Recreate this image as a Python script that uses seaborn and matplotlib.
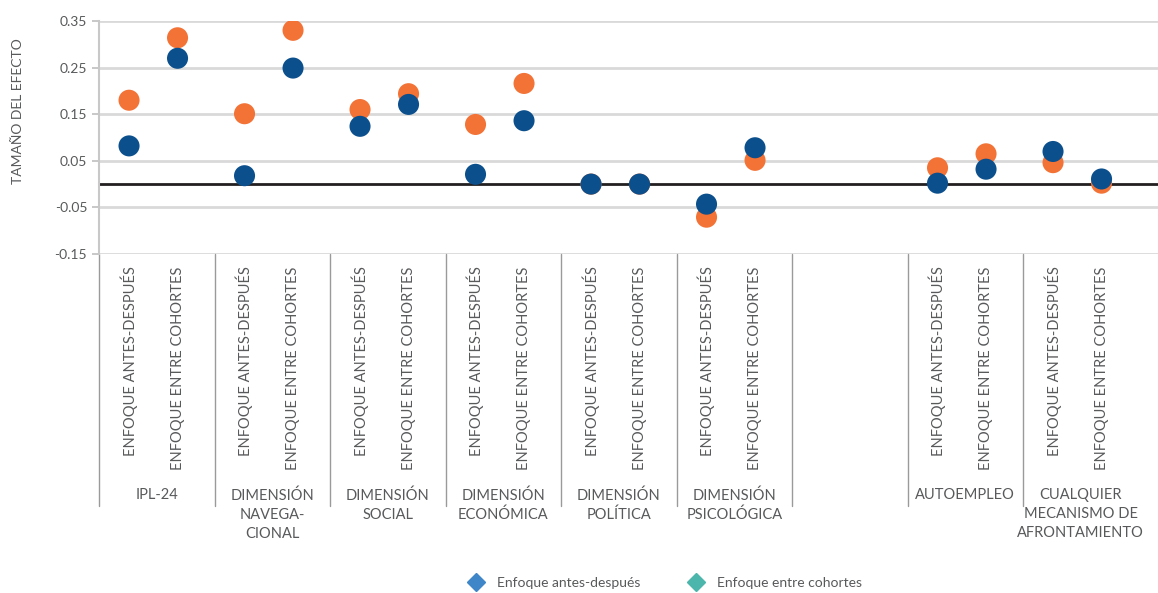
import pandas as pd
import matplotlib.pyplot as plt
from matplotlib.lines import Line2D
import seaborn as sns

# Data
groups = ['IPL-24', 'DIMENSIÓN\nNAVEGA-\nCIONAL', 'DIMENSIÓN\nSOCIAL', 'DIMENSIÓN\nECONÓMICA',
          'DIMENSIÓN\nPOLÍTICA', 'DIMENSIÓN\nPSICOLÓGICA', '', 'AUTOEMPLEO',
          'CUALQUIER\nMECANISMO DE\nAFRONTAMIENTO']
approaches = ['ENFOQUE ANTES-DESPUÉS', 'ENFOQUE ENTRE COHORTES']

# one value per (group, approach); None where the group is empty
orange_antes = [0.180, 0.151, 0.160, 0.128, 0.000, -0.071, None, 0.035, 0.046]
orange_cohortes = [0.314, 0.330, 0.194, 0.216, 0.000, 0.051, None, 0.065, 0.002]
blue_antes = [0.082, 0.018, 0.124, 0.021, 0.000, -0.043, None, 0.002, 0.070]
blue_cohortes = [0.270, 0.249, 0.171, 0.136, 0.000, 0.078, None, 0.032, 0.011]

yticks = [-0.15, -0.05, 0.05, 0.15, 0.25, 0.35]
legend_labels = ['Enfoque antes-después', 'Enfoque entre cohortes']

ORANGE = '#F37236'
BLUE = '#0B4F8C'
TEXT = '#58595B'
offsets = [0.26, 0.68]

sns.set_theme(style='white')
plt.rcParams['font.family'] = ['Lato', 'DejaVu Sans']

rows = []
for series, vals_a, vals_c in [('naranja', orange_antes, orange_cohortes),
                               ('azul', blue_antes, blue_cohortes)]:
    for g, (va, vc) in enumerate(zip(vals_a, vals_c)):
        for k, v in enumerate([va, vc]):
            if v is not None:
                rows.append({'serie': series, 'pos': g + offsets[k], 'efecto': v})
df = pd.DataFrame(rows)

fig = plt.figure(figsize=(11.58, 5.93), dpi=100)
ax = fig.add_axes([99 / 1158, 1 - 254 / 593, (1158 - 99) / 1158, 233 / 593])

sns.scatterplot(data=df, x='pos', y='efecto', hue='serie', hue_order=['naranja', 'azul'],
                palette={'naranja': ORANGE, 'azul': BLUE}, s=230, linewidth=0,
                legend=False, ax=ax, zorder=4)

ax.set_xlim(0, (1158 - 99) / 115.5)
ax.set_ylim(-0.15, 0.35)
ax.set_yticks(yticks)
ax.set_yticklabels([f'{t:.2f}' for t in yticks])
ax.yaxis.grid(True, color='#D9D9D9', lw=2, zorder=0)
ax.axhline(0, color='#231F20', lw=2, zorder=2)

tick_pos, tick_lab = [], []
for g, name in enumerate(groups):
    if name:
        for k, lab in enumerate(approaches):
            tick_pos.append(g + offsets[k])
            tick_lab.append(lab)
ax.set_xticks(tick_pos)
ax.set_xticklabels(tick_lab, rotation=90, va='top', ha='center', fontsize=10.5, color=TEXT)
ax.tick_params(axis='x', length=0, pad=9)
ax.tick_params(axis='y', length=5, width=1.2, color='#BFBFBF', labelsize=10, labelcolor=TEXT, left=True)
ax.set_xlabel('')
ax.set_ylabel('')

for side in ['top', 'right', 'bottom']:
    ax.spines[side].set_visible(False)
ax.spines['left'].set_color('#C8C8C8')
ax.spines['left'].set_linewidth(1.5)

# group separators and group names below the axis
trans = ax.get_xaxis_transform()
for g in range(len(groups)):
    ax.plot([g, g], [0, -1.08], color='#9A9A9A', lw=1, transform=trans, clip_on=False)
    if groups[g]:
        ax.text(g + 0.5, -1.005, groups[g], transform=trans, ha='center', va='top',
                fontsize=10.5, color=TEXT, linespacing=1.45)

fig.text(18 / 1158, 1 - 111 / 593, 'TAMAÑO DEL EFECTO', rotation=90, ha='center',
         va='center', fontsize=10, color=TEXT)

handles = [Line2D([], [], marker='D', ls='', color='#3F86C8', markersize=9),
           Line2D([], [], marker='D', ls='', color='#4DB6AC', markersize=9)]
fig.legend(handles, legend_labels, loc='center', bbox_to_anchor=(662 / 1158, 1 - 583 / 593),
           ncol=2, frameon=False, fontsize=10, labelcolor=TEXT, handletextpad=0.5,
           columnspacing=3)

fig.savefig('out.png', dpi=100)
